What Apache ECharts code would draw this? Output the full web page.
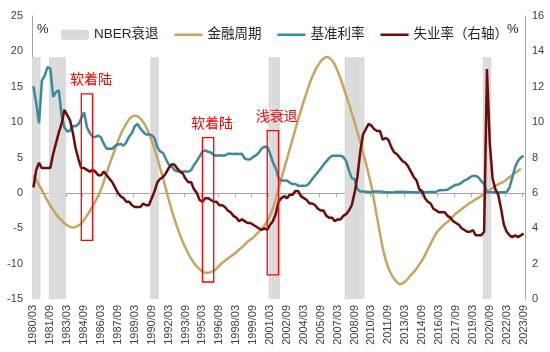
<!DOCTYPE html>
<html>
<head>
<meta charset="utf-8">
<script src="https://cdn.jsdelivr.net/npm/echarts@6/dist/echarts.min.js"></script>
<style>
  html, body { margin: 0; padding: 0; background: #fff; }
  #chart { width: 550px; height: 352px; }
</style>
</head>
<body>
<div id="chart"></div>
<script>
// 季度标签 1980/03 ~ 2023/09
const categories = [];
for (let y = 1980; y <= 2023; y++) {
  ['03', '06', '09', '12'].forEach(m => {
    if (!(y === 2023 && m === '12')) categories.push(y + '/' + m);
  });
}

// NBER 衰退区间（季度）
const recessions = [
  ['1980/03', '1980/09'],
  ['1981/09', '1982/12'],
  ['1990/09', '1991/03'],
  ['2001/03', '2001/12'],
  ['2007/12', '2009/06'],
  ['2020/03', '2020/09']
];

// 金融周期（左轴）
const finCycle = [
  2.5, 1.8, 1.1, 0.4,
  -0.4, -1.1, -1.8, -2.4,
  -3.0, -3.5, -3.9, -4.3,
  -4.6, -4.8, -4.9, -4.8,
  -4.6, -4.3, -3.8, -3.2,
  -2.6, -1.9, -1.2, -0.4,
  0.5, 1.6, 2.8, 4.0,
  5.1, 6.2, 7.3, 8.3,
  9.1, 9.8, 10.4, 10.8,
  10.9, 10.8, 10.5, 10.0,
  9.3, 8.4, 7.4, 6.2,
  4.9, 3.5, 2.1, 0.6,
  -0.9, -2.3, -3.6, -4.8,
  -5.9, -6.9, -7.8, -8.6,
  -9.3, -9.9, -10.4, -10.8,
  -11.1, -11.3, -11.3, -11.2,
  -11.0, -10.7, -10.3, -9.9,
  -9.6, -9.3, -9.0, -8.7,
  -8.4, -8.0, -7.7, -7.3,
  -6.9, -6.6, -6.3, -5.9,
  -5.5, -5.1, -4.6, -4.0,
  -3.2, -2.2, -0.9, 0.6,
  2.0, 3.4, 4.8, 6.2,
  7.6, 9.0, 10.4, 11.7,
  13.0, 14.2, 15.4, 16.4,
  17.3, 18.0, 18.6, 19.0,
  19.2, 19.1, 18.7, 18.1,
  17.2, 16.2, 15.0, 13.8,
  12.6, 11.3, 10.0, 8.6,
  7.2, 5.7, 4.2, 2.6,
  0.9, -1.3, -3.5, -5.7,
  -7.8, -9.4, -10.6, -11.5,
  -12.1, -12.6, -12.9, -12.8,
  -12.5, -12.1, -11.6, -11.2,
  -10.7, -10.1, -9.5, -8.8,
  -8.0, -7.2, -6.4, -5.7,
  -5.2, -4.8, -4.4, -4.1,
  -3.7, -3.3, -2.9, -2.6,
  -2.3, -2.0, -1.7, -1.4,
  -1.2, -0.9, -0.7, -0.4,
  -0.2, 0.1, 0.4, 0.7,
  1.0, 1.2, 1.4, 1.6,
  1.9, 2.2, 2.5, 2.8,
  3.1, 3.4, '-'
];

// 基准利率（左轴）
const fedRate = [
  15.05, 12.69, 9.84, 15.85,
  16.57, 17.78, 17.58, 13.59,
  14.23, 14.51, 11.01, 9.29,
  8.65, 8.80, 9.46, 9.43,
  9.69, 10.56, 11.39, 9.27,
  8.48, 7.92, 7.90, 8.10,
  7.83, 6.92, 6.21, 6.27,
  6.22, 6.65, 6.84, 6.92,
  6.66, 7.16, 7.98, 8.47,
  9.44, 9.73, 9.08, 8.61,
  8.25, 8.24, 8.16, 7.74,
  6.43, 5.86, 5.64, 4.82,
  4.02, 3.77, 3.26, 3.04,
  3.04, 3.00, 3.06, 2.99,
  3.21, 3.94, 4.49, 5.17,
  5.81, 6.02, 5.80, 5.72,
  5.36, 5.24, 5.31, 5.28,
  5.28, 5.52, 5.53, 5.51,
  5.52, 5.50, 5.53, 4.86,
  4.73, 4.75, 5.09, 5.31,
  5.68, 6.27, 6.52, 6.47,
  5.59, 4.33, 3.50, 2.13,
  1.73, 1.75, 1.74, 1.44,
  1.25, 1.25, 1.02, 1.00,
  1.00, 1.03, 1.43, 1.95,
  2.47, 2.94, 3.46, 3.98,
  4.46, 4.91, 5.25, 5.25,
  5.26, 5.25, 5.07, 4.50,
  3.18, 2.09, 1.94, 0.51,
  0.18, 0.18, 0.16, 0.12,
  0.13, 0.19, 0.19, 0.19,
  0.16, 0.09, 0.08, 0.07,
  0.10, 0.15, 0.14, 0.16,
  0.14, 0.12, 0.08, 0.09,
  0.07, 0.09, 0.09, 0.10,
  0.11, 0.12, 0.13, 0.16,
  0.36, 0.37, 0.40, 0.45,
  0.70, 0.95, 1.15, 1.20,
  1.45, 1.74, 1.92, 2.22,
  2.40, 2.40, 2.19, 1.64,
  1.26, 0.06, 0.09, 0.09,
  0.08, 0.07, 0.09, 0.08,
  0.12, 0.77, 2.19, 3.65,
  4.52, 4.99, 5.26
];

// 失业率（右轴）
const unemployment = [
  6.3, 7.3, 7.7, 7.4,
  7.4, 7.4, 7.4, 8.2,
  8.8, 9.4, 9.9, 10.7,
  10.4, 10.1, 9.4, 8.5,
  7.9, 7.4, 7.4, 7.3,
  7.2, 7.3, 7.2, 7.0,
  7.0, 7.2, 7.0, 6.8,
  6.6, 6.3, 6.0, 5.8,
  5.7, 5.5, 5.5, 5.3,
  5.2, 5.2, 5.2, 5.4,
  5.3, 5.3, 5.7, 6.1,
  6.6, 6.8, 6.9, 7.1,
  7.4, 7.6, 7.6, 7.4,
  7.2, 7.1, 6.8, 6.6,
  6.6, 6.2, 6.0, 5.6,
  5.5, 5.7, 5.7, 5.6,
  5.5, 5.5, 5.3, 5.3,
  5.2, 5.0, 4.9, 4.7,
  4.6, 4.4, 4.5, 4.4,
  4.3, 4.3, 4.2, 4.1,
  4.0, 3.9, 4.0, 3.9,
  4.2, 4.4, 4.8, 5.5,
  5.7, 5.8, 5.7, 5.9,
  5.9, 6.1, 6.1, 5.8,
  5.7, 5.6, 5.4, 5.4,
  5.3, 5.1, 5.0, 5.0,
  4.7, 4.6, 4.6, 4.4,
  4.5, 4.5, 4.7, 4.8,
  5.0, 5.3, 6.0, 6.9,
  8.3, 9.3, 9.6, 9.9,
  9.8, 9.6, 9.5, 9.5,
  9.0, 9.1, 9.0, 8.6,
  8.3, 8.2, 8.0, 7.8,
  7.7, 7.5, 7.2, 6.9,
  6.7, 6.2, 6.1, 5.7,
  5.5, 5.4, 5.1, 5.0,
  4.9, 4.9, 4.9, 4.7,
  4.6, 4.4, 4.3, 4.2,
  4.0, 3.9, 3.8, 3.8,
  3.9, 3.6, 3.6, 3.6,
  3.8, 13.0, 8.8, 6.8,
  6.2, 5.9, 5.1, 4.2,
  3.8, 3.6, 3.5, 3.6,
  3.5, 3.6, 3.7
];

// 红框标注
const annotations = [
  { text: '软着陆', from: '1984/06', to: '1985/06', high: 14.0, low: -6.7 },
  { text: '软着陆', from: '1995/03', to: '1996/03', high: 7.8, low: -12.6 },
  { text: '浅衰退', from: '2000/12', to: '2001/12', high: 8.8, low: -11.6 }
];

const leftTicks = [-15, 25, 5];
const rightTicks = [0, 16, 2];

// 衰退标记
const recessionFlags = categories.map(c =>
  recessions.some(r => c >= r[0] && c <= r[1]) ? 1 : '-'
);

const font = "'Liberation Sans', 'Noto Sans CJK SC', sans-serif";
const axisGray = '#a6a6a6';
const labelColor = '#404040';
const lineIcon = 'path://M0,0h28v2.5h-28z';

const chart = echarts.init(document.getElementById('chart'));

const option = {
  animation: false,
  textStyle: { fontFamily: font },
  grid: { left: 32, right: 25, top: 16, bottom: 53 },
  legend: {
    left: 56,
    top: 23,
    itemWidth: 28,
    itemHeight: 10,
    itemGap: 16,
    textStyle: { fontSize: 13.5, color: '#262626', fontFamily: font },
    data: [
      { name: 'NBER衰退', icon: 'roundRect' },
      { name: '金融周期', icon: lineIcon },
      { name: '基准利率', icon: lineIcon },
      { name: '失业率（右轴）', icon: lineIcon }
    ]
  },
  graphic: [
    { type: 'text', left: 37, top: 23, style: { text: '%', fontSize: 13, fill: '#262626', fontFamily: font } },
    { type: 'text', left: 507, top: 23, style: { text: '%', fontSize: 13, fill: '#262626', fontFamily: font } }
  ],
  xAxis: [
    {
      type: 'category',
      data: categories,
      boundaryGap: true,
      axisLine: { show: false, onZero: false },
      axisTick: { show: false },
      axisLabel: {
        interval: 5,
        rotate: 90,
        fontSize: 11,
        color: labelColor,
        margin: 6
      },
      splitLine: { show: false }
    },
    {
      type: 'category',
      data: categories,
      position: 'bottom',
      boundaryGap: true,
      axisLine: { show: true, onZero: true, onZeroAxisIndex: 0, lineStyle: { color: axisGray, width: 1 } },
      axisTick: { show: true, interval: 5, length: 4, lineStyle: { color: axisGray } },
      axisLabel: { show: false },
      splitLine: { show: false }
    }
  ],
  yAxis: [
    {
      type: 'value',
      min: leftTicks[0],
      max: leftTicks[1],
      interval: leftTicks[2],
      axisLine: { show: true, lineStyle: { color: axisGray } },
      axisTick: { show: false },
      axisLabel: { fontSize: 11, color: labelColor, margin: 9 },
      splitLine: { show: false }
    },
    {
      type: 'value',
      position: 'right',
      min: rightTicks[0],
      max: rightTicks[1],
      interval: rightTicks[2],
      axisLine: { show: true, lineStyle: { color: axisGray } },
      axisTick: { show: false },
      axisLabel: { fontSize: 11, color: labelColor, margin: 7 },
      splitLine: { show: false }
    },
    {
      type: 'value',
      show: false,
      min: 0,
      max: 1.17
    }
  ],
  series: [
    {
      name: 'NBER衰退',
      type: 'bar',
      yAxisIndex: 2,
      data: recessionFlags,
      barCategoryGap: '0%',
      itemStyle: { color: '#d9d9d9' },
      z: 1,
      silent: true
    },
    {
      name: '金融周期',
      type: 'line',
      data: finCycle,
      symbol: 'none',
      smooth: 0.3,
      lineStyle: { color: '#c8a55e', width: 2.5 },
      itemStyle: { color: '#c8a55e' }
    },
    {
      name: '基准利率',
      type: 'line',
      data: fedRate,
      symbol: 'none',
      lineStyle: { color: '#3b8a9b', width: 2.5 },
      itemStyle: { color: '#3b8a9b' },
      markArea: {
        silent: true,
        z: 5,
        itemStyle: { color: 'rgba(0,0,0,0)', borderColor: '#ff0000', borderWidth: 1.3 },
        label: { show: true, position: 'top', offset: [4, -1], color: '#ff0000', fontSize: 14, fontFamily: font },
        data: annotations.map(a => [
          { name: a.text, xAxis: a.from, yAxis: a.high },
          { xAxis: a.to, yAxis: a.low }
        ])
      }
    },
    {
      name: '失业率（右轴）',
      type: 'line',
      yAxisIndex: 1,
      data: unemployment,
      symbol: 'none',
      lineStyle: { color: '#6e0b0b', width: 2.5 },
      itemStyle: { color: '#6e0b0b' }
    }
  ]
};

chart.setOption(option);
</script>
</body>
</html>
